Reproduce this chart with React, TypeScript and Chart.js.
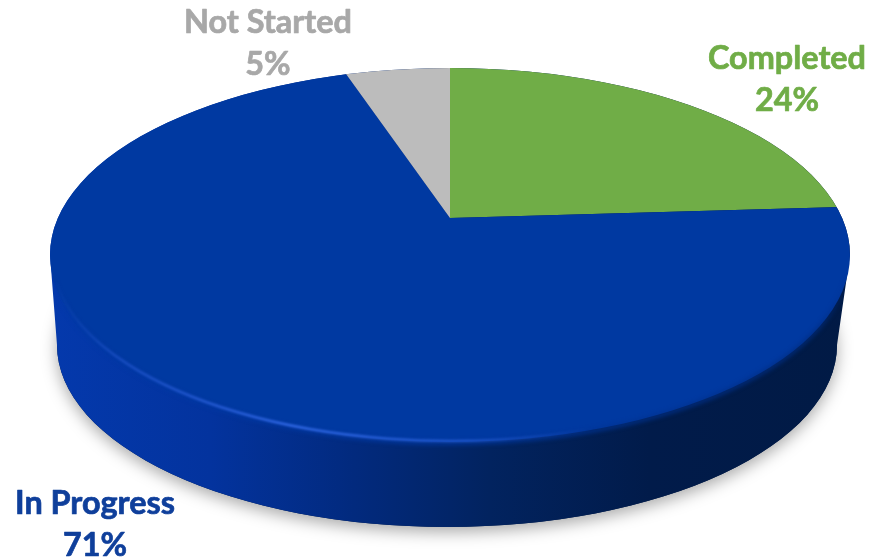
import React, { useEffect, useRef } from "react";
import { Chart, registerables } from "chart.js";

Chart.register(...registerables);

const categories = ["Completed", "In Progress", "Not Started"];
const percentValues = [24, 71, 5];
const sliceColors = ["#70AD47", "#0039A1", "#BCBCBC"];
const labelColors = ["#70AD47", "#0F3F9B", "#A8A8A8"];

const WIDTH = 869;
const HEIGHT = 558;
const FONT = "bold 32.4px Lato, Carlito, 'Open Sans', sans-serif";

// Geometry of the tilted disc
const apex = { x: 450, y: 218 };
const tilt = 0.45;
const top = { cx: 450, cy: 255, rx: 400, ry: 187 };
const bottom = { cx: 447, cy: 345, rx: 390, ry: 182 };
const labelAnchors = [
  { x: 787, y: 69 },
  { x: 95, y: 514 },
  { x: 268, y: 33 },
];
const lineGap = 42;

function wallPath(ctx: CanvasRenderingContext2D) {
  ctx.beginPath();
  ctx.moveTo(top.cx - top.rx, top.cy);
  ctx.lineTo(bottom.cx - bottom.rx, bottom.cy);
  ctx.ellipse(bottom.cx, bottom.cy, bottom.rx, bottom.ry, 0, Math.PI, 0, true);
  ctx.lineTo(top.cx + top.rx, top.cy);
  ctx.ellipse(top.cx, top.cy, top.rx, top.ry, 0, 0, Math.PI, true);
  ctx.closePath();
}

function outlinePath(ctx: CanvasRenderingContext2D) {
  ctx.beginPath();
  ctx.ellipse(top.cx, top.cy, top.rx, top.ry, 0, Math.PI, 0, false);
  ctx.lineTo(bottom.cx + bottom.rx, bottom.cy);
  ctx.ellipse(bottom.cx, bottom.cy, bottom.rx, bottom.ry, 0, 0, Math.PI, false);
  ctx.closePath();
}

const disc3d = {
  id: "disc3d",
  beforeDatasetsDraw(chart: any) {
    const { ctx, chartArea } = chart;
    const mx = (chartArea.left + chartArea.right) / 2;
    const my = (chartArea.top + chartArea.bottom) / 2;
    const radius = chart.getDatasetMeta(0).data[0].outerRadius;
    const k = 620 / radius;

    // Soft drop shadow, cast only by the lower ellipse
    ctx.save();
    ctx.beginPath();
    ctx.ellipse(bottom.cx, bottom.cy, bottom.rx, bottom.ry, 0, 0, Math.PI * 2);
    ctx.shadowColor = "rgba(0,0,0,0.34)";
    ctx.shadowBlur = 16;
    ctx.shadowOffsetY = 5;
    ctx.fillStyle = "#011A45";
    ctx.fill();
    ctx.restore();

    // Side wall
    ctx.save();
    const wall = ctx.createLinearGradient(top.cx - top.rx, 0, top.cx + top.rx, 0);
    wall.addColorStop(0, "#0439AC");
    wall.addColorStop(0.2, "#03339E");
    wall.addColorStop(0.38, "#022A7E");
    wall.addColorStop(0.55, "#02235F");
    wall.addColorStop(0.75, "#011B4A");
    wall.addColorStop(1, "#011A45");
    wallPath(ctx);
    ctx.fillStyle = wall;
    ctx.fill();
    ctx.restore();

    // Top face: the library's pie, tilted about the apex and cut to the rim
    ctx.save();
    ctx.beginPath();
    ctx.ellipse(top.cx, top.cy, top.rx, top.ry, 0, 0, Math.PI * 2);
    ctx.clip();
    ctx.translate(apex.x, apex.y);
    ctx.scale(k, k * tilt);
    ctx.translate(-mx, -my);
  },
  afterDatasetsDraw(chart: any) {
    const { ctx } = chart;
    ctx.restore();

    // Soft bevel along the front rim, kept inside the disc's outline
    ctx.save();
    outlinePath(ctx);
    ctx.clip();
    ctx.filter = "blur(2px)";
    const bevel = ctx.createLinearGradient(top.cx - top.rx, 0, top.cx + top.rx, 0);
    bevel.addColorStop(0, "rgba(0,57,163,0)");
    bevel.addColorStop(0.04, "rgba(0,57,163,0.9)");
    bevel.addColorStop(0.45, "rgba(0,57,163,0.9)");
    bevel.addColorStop(0.96, "rgba(0,45,130,0.8)");
    bevel.addColorStop(1, "rgba(0,45,130,0)");
    ctx.strokeStyle = bevel;
    ctx.lineWidth = 4;
    ctx.beginPath();
    ctx.ellipse(top.cx, top.cy, top.rx, top.ry + 1, 0, 0.12, Math.PI - 0.12);
    ctx.stroke();

    const glow = ctx.createLinearGradient(top.cx - top.rx, 0, top.cx + top.rx, 0);
    glow.addColorStop(0, "rgba(40,90,215,0)");
    glow.addColorStop(0.08, "rgba(40,90,215,0.55)");
    glow.addColorStop(0.3, "rgba(50,105,230,0.95)");
    glow.addColorStop(0.52, "rgba(50,105,230,0.6)");
    glow.addColorStop(0.68, "rgba(50,105,230,0)");
    ctx.filter = "blur(1px)";
    ctx.strokeStyle = glow;
    ctx.lineWidth = 2.5;
    ctx.beginPath();
    ctx.ellipse(top.cx, top.cy, top.rx - 2, top.ry - 1, 0, Math.PI * 0.3, Math.PI - 0.15);
    ctx.stroke();
    ctx.restore();

    // Data labels
    ctx.save();
    ctx.font = FONT;
    ctx.textAlign = "center";
    ctx.textBaseline = "alphabetic";
    ctx.lineJoin = "round";
    ctx.lineWidth = 0.7;
    categories.forEach((name, i) => {
      ctx.fillStyle = labelColors[i];
      ctx.strokeStyle = labelColors[i];
      const lines = [name, `${percentValues[i]}%`];
      lines.forEach((line, j) => {
        const y = labelAnchors[i].y + j * lineGap;
        ctx.fillText(line, labelAnchors[i].x, y);
        ctx.strokeText(line, labelAnchors[i].x, y);
      });
    });
    ctx.restore();
  },
};

export default function App() {
  const ref = useRef<HTMLCanvasElement | null>(null);

  useEffect(() => {
    document.body.style.margin = "0";
    document.body.style.background = "#ffffff";
    const chart = new Chart(ref.current as HTMLCanvasElement, {
      type: "pie",
      data: {
        labels: categories,
        datasets: [
          {
            data: percentValues,
            backgroundColor: sliceColors,
            borderWidth: 0,
          },
        ],
      },
      options: {
        responsive: false,
        animation: false,
        rotation: 0,
        layout: { padding: 0 },
        plugins: { legend: { display: false }, tooltip: { enabled: false }, title: { display: false } },
      },
      plugins: [disc3d],
    } as any);
    return () => chart.destroy();
  }, []);

  return (
    <div style={{ position: "absolute", left: 0, top: 0, width: WIDTH, height: HEIGHT, overflow: "hidden" }}>
      <canvas ref={ref} width={WIDTH} height={HEIGHT} style={{ display: "block" }} />
    </div>
  );
}
